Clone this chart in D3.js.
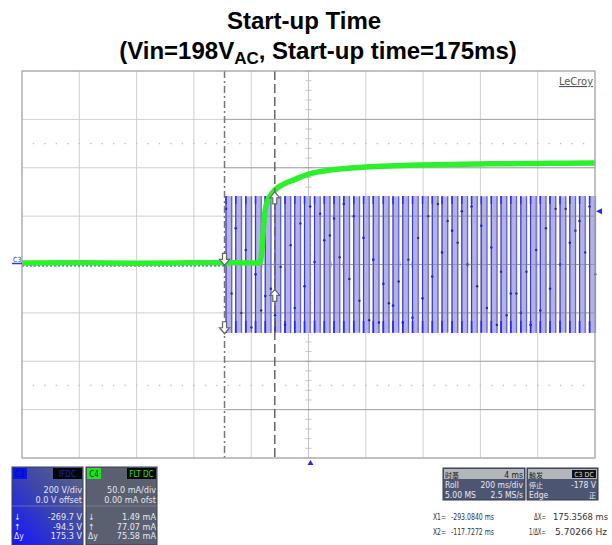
<!DOCTYPE html>
<html><head><meta charset="utf-8">
<script src="https://cdn.jsdelivr.net/npm/d3@7"></script>
<style>
html,body{margin:0;padding:0;background:#fff;}
svg{display:block;}
.nar{font-family:"Liberation Sans Narrow","DejaVu Sans Condensed","Liberation Sans",Arial,sans-serif;}
</style></head>
<body>
<script>
// ---------- data ----------
const titleLine1 = "Start-up Time";
const timeDomain = [-1000, 1000];      // ms, 200 ms/div, 10 div
const voltDomain = [-800, 800];        // V, 200 V/div, 8 div
const currDomain = [-200, 200];        // mA, 50 mA/div, 8 div
const xDivs = 10, yDivs = 8;

// green trace: input current C4 (ms, mA)
const greenT = [-1000, -800, -600, -400, -300, -200, -169, -163, -158, -153, -148, -141, -131, -117, -100, -80, -64, -30, -9, 30, 70, 110, 160, 201, 300, 389, 500, 599, 700, 800, 900, 1000];
const greenI = [1.5, 1.8, 1.3, 1.7, 1.9, 1.5, 1.6, 14, 34, 52, 61, 67, 72, 77, 81, 84, 86, 90, 92.5, 95.5, 97.5, 98.7, 100, 100.8, 102, 102.8, 103.4, 103.9, 104.2, 104.4, 104.7, 104.9];

// blue trace: AC input voltage C3, baseline before switch-on (ms, V)
const blueBaseT = [-1000, -293];
const blueBaseV = [-6, -6];
// blue trace after switch-on: displayed (roll-mode) columns: time (ms), crest (V), trough (V), sampled dots (V)
const acT = [-290, -256, -221, -187, -153, -119, -84, -50, -16, 19, 53, 87, 121, 156, 190, 224, 259, 293, 327, 361, 396, 430, 464, 499, 533, 567, 601, 636, 670, 704, 739, 773, 807, 841, 876, 910, 944, 979];
const acPeak = [283, 283, 282, 283, 283, 282, 283, 283, 283, 282, 283, 283, 283, 282, 283, 283, 283, 282, 283, 283, 283, 283, 282, 283, 283, 283, 282, 283, 283, 283, 282, 283, 283, 283, 282, 283, 283, 283];
const acTrough = [-283, -283, -282, -283, -283, -282, -283, -283, -283, -282, -283, -283, -283, -282, -283, -283, -283, -282, -283, -283, -283, -283, -282, -283, -283, -283, -282, -283, -283, -283, -282, -283, -283, -283, -282, -283, -283, -283];
const acDotA = [230, 150, 60, -40, -130, -210, -250, -180, -90, 10, 100, 190, 250, 200, 110, 20, -80, -170, -240, -220, -140, -50, 50, 140, 220, 240, 160, 70, -30, -120, -200, -250, -190, -100, 0, 90, 180, 240];
const acDotB = [-120, -200, -260, -190, -100, -10, 80, 170, 240, 210, 120, 30, -60, -150, -230, -240, -160, -70, 20, 110, 200, 250, 180, 90, 0, -90, -180, -250, -210, -120, -30, 60, 150, 230, 230, 140, 50, -40];

// cursors
const cursorX1 = -293.084, cursorX2 = -117.7272;
const dottedLevels = [500, -500]; // V levels of dotted horizontal lines
const triggerLevel = 220; // V, marker on right edge

// readout panels
const c3Rows = ["200 V/div", "0.0 V offset"];
const c3Cursor = [["↓", "-269.7 V"], ["↑", "-94.5 V"], ["Δy", "175.3 V"]];
const c4Rows = ["50.0 mA/div", "0.00 mA ofst"];
const c4Cursor = [["↓", "1.49 mA"], ["↑", "77.07 mA"], ["Δy", "75.58 mA"]];
const tbRows = [["时基", "4 ms"], ["Roll", "200 ms/div"], ["5.00 MS", "2.5 MS/s"]];
const trRows = [["触发", "C3 DC"], ["停止", "-178 V"], ["Edge", "正"]];
const readout = [["X1=", "-293.0840 ms", "ΔX=", "175.3568 ms"], ["X2=", "-117.7272 ms", "1/ΔX=", "5.70266 Hz"]];

// ---------- drawing ----------
const W = 612, H = 545;
const L = 22, R = 595, T = 71, B = 458;
const svg = d3.select("body").append("svg").attr("width", W).attr("height", H);

const x = d3.scaleLinear().domain(timeDomain).range([L, R]);
const yV = d3.scaleLinear().domain(voltDomain).range([B, T]);
const yI = d3.scaleLinear().domain(currDomain).range([B, T]);
const xGrid = d3.range(xDivs + 1).map(i => timeDomain[0] + i * (timeDomain[1] - timeDomain[0]) / xDivs);
const yGrid = d3.range(yDivs + 1).map(i => voltDomain[0] + i * (voltDomain[1] - voltDomain[0]) / yDivs);

// Title
svg.append("text").attr("x", 304).attr("y", 29).attr("text-anchor", "middle")
  .style("font-family", "Liberation Sans, Arial, sans-serif").style("font-weight", "bold").style("font-size", "24px")
  .text(titleLine1);
const t2 = svg.append("text").attr("x", 318).attr("y", 59).attr("text-anchor", "middle")
  .style("font-family", "Liberation Sans, Arial, sans-serif").style("font-weight", "bold").style("font-size", "24px");
t2.append("tspan").text("(Vin=198V");
t2.append("tspan").attr("dy", 5).style("font-size", "17px").text("AC");
t2.append("tspan").attr("dy", -5).text(", Start-up time=175ms)");

// Plot background
svg.append("rect").attr("x", L).attr("y", T).attr("width", R - L).attr("height", B - T).attr("fill", "#fff");

const gridG = svg.append("g");
gridG.selectAll("line.v").data(xGrid).join("line")
  .attr("x1", d => x(d)).attr("x2", d => x(d)).attr("y1", T).attr("y2", B)
  .attr("stroke", "#d0d0d0").attr("stroke-width", 1);
gridG.selectAll("line.h").data(yGrid).join("line")
  .attr("y1", d => yV(d)).attr("y2", d => yV(d)).attr("x1", L).attr("x2", R)
  .attr("stroke", "#d0d0d0").attr("stroke-width", 1);

// dotted lines
const minorX = d3.range(xDivs * 5 + 1).map(i => timeDomain[0] + i * (timeDomain[1] - timeDomain[0]) / (xDivs * 5));
const minorY = d3.range(yDivs * 5 + 1).map(i => voltDomain[0] + i * (voltDomain[1] - voltDomain[0]) / (yDivs * 5));
dottedLevels.forEach(lv => {
  gridG.selectAll(null).data(minorX.slice(1, -1)).join("rect")
    .attr("x", d => x(d) - 0.7).attr("y", yV(lv) - 0.7).attr("width", 1.4).attr("height", 1.4).attr("fill", "#c0c0c0");
});

// center axes with minor ticks
const cx = x(0), cy = yV(0);
gridG.append("line").attr("x1", cx).attr("x2", cx).attr("y1", T).attr("y2", B).attr("stroke", "#c4c4c4");
gridG.append("line").attr("x1", L).attr("x2", R).attr("y1", cy).attr("y2", cy).attr("stroke", "#c4c4c4");
gridG.selectAll(null).data(minorY).join("line")
  .attr("x1", cx - 3).attr("x2", cx + 3).attr("y1", d => yV(d)).attr("y2", d => yV(d)).attr("stroke", "#c4c4c4");
gridG.selectAll(null).data(minorX).join("line")
  .attr("y1", cy - 3).attr("y2", cy + 3).attr("x1", d => x(d)).attr("x2", d => x(d)).attr("stroke", "#c4c4c4");

// Blue trace
const blueG = svg.append("g");
const colW = 7.2;
const cols = acT.map((t, i) => ({ t, p: acPeak[i], q: acTrough[i], a: acDotA[i], b: acDotB[i] }));
blueG.selectAll("rect.col").data(cols).join("rect")
  .attr("x", d => x(d.t)).attr("y", d => yV(d.p)).attr("width", colW).attr("height", d => yV(d.q) - yV(d.p))
  .attr("fill", "#b2b2e6");
blueG.selectAll("line.up").data(cols).join("line")
  .attr("x1", d => x(d.t) + 0.6).attr("x2", d => x(d.t) + 0.6).attr("y1", d => yV(d.p)).attr("y2", d => yV(d.q))
  .attr("stroke", "#3a3ac4").attr("stroke-width", 1.2);
blueG.selectAll("line.dn").data(cols).join("line")
  .attr("x1", d => x(d.t) + colW - 1).attr("x2", d => x(d.t) + colW - 1).attr("y1", d => yV(d.p)).attr("y2", d => yV(d.q))
  .attr("stroke", "#5a5ad0").attr("stroke-width", 1.0);
blueG.selectAll("line.bt").data(cols).join("line")
  .attr("x1", d => x(d.t) + 0.6).attr("x2", d => x(d.t) + 0.6).attr("y1", d => yV(d.q) - 12).attr("y2", d => yV(d.q))
  .attr("stroke", "#2a2aff").attr("stroke-width", 1.7);
blueG.selectAll("line.tp").data(cols).join("line")
  .attr("x1", d => x(d.t) + 0.6).attr("x2", d => x(d.t) + 0.6).attr("y1", d => yV(d.p)).attr("y2", d => yV(d.p) + 8)
  .attr("stroke", "#3030e8").attr("stroke-width", 1.5);
blueG.selectAll("circle.a").data(cols).join("circle")
  .attr("cx", d => x(d.t) + 0.6).attr("cy", d => yV(d.a)).attr("r", 1.3).attr("fill", "#2020e0");
blueG.selectAll("circle.b").data(cols).join("circle")
  .attr("cx", d => x(d.t) + colW - 1).attr("cy", d => yV(d.b)).attr("r", 1.2).attr("fill", "#2a2a90");
blueG.append("path").datum(blueBaseT.map((t, i) => [t, blueBaseV[i]]))
  .attr("d", d3.line().x(d => x(d[0])).y(d => yV(d[1])))
  .attr("stroke", "#3a3ad8").attr("stroke-width", 1.2).attr("stroke-dasharray", "2,2").attr("fill", "none");

// grid on top over the signal (faint)
svg.append("g").selectAll("line").data(yGrid.slice(1, -1)).join("line")
  .attr("y1", d => yV(d)).attr("y2", d => yV(d)).attr("x1", x(cursorX1)).attr("x2", R)
  .attr("stroke", "#707090").attr("stroke-opacity", 0.5).attr("stroke-width", 1);

// Green trace
svg.append("path").datum(greenT.map((t, i) => [t, greenI[i]]))
  .attr("d", d3.line().x(d => x(d[0])).y(d => yI(d[1])).curve(d3.curveMonotoneX))
  .attr("stroke", "#2cf02c").attr("stroke-width", 5.5).attr("fill", "none").attr("stroke-linejoin", "round");

// Cursors
svg.append("line").attr("x1", x(cursorX1)).attr("x2", x(cursorX1)).attr("y1", T).attr("y2", B)
  .attr("stroke", "#777").attr("stroke-width", 1.5).attr("stroke-dasharray", "7,3,2,3");
svg.append("line").attr("x1", x(cursorX2)).attr("x2", x(cursorX2)).attr("y1", T).attr("y2", B)
  .attr("stroke", "#666").attr("stroke-width", 1.5).attr("stroke-dasharray", "9,4");

function arrow(px, py, down) {
  const s = down ? 1 : -1;
  const p = [[-2, -6 * s], [2, -6 * s], [2, 0], [5, 0], [0, 6 * s], [-5, 0], [-2, 0]];
  svg.append("path").attr("d", "M" + p.map(q => [px + q[0], py + q[1]].join(",")).join("L") + "Z")
    .attr("fill", "#fff").attr("stroke", "#666").attr("stroke-width", 1.2);
}
arrow(x(cursorX1), yV(-4) - 6, true);
arrow(x(cursorX1), yV(-269.7) - 2, true);
arrow(x(cursorX2), yI(77.07) + 8, false);
arrow(x(cursorX2), yV(-94.5) + 8, false);

// Plot border
svg.append("rect").attr("x", L).attr("y", T).attr("width", R - L).attr("height", B - T)
  .attr("fill", "none").attr("stroke", "#a8a8a8").attr("stroke-width", 1.2);

// LeCroy logo
svg.append("text").attr("x", 593).attr("y", 85).attr("text-anchor", "end").attr("class", "nar")
  .style("font-size", "11px").attr("fill", "#555").attr("text-decoration", "underline").text("LeCroy");

// C3 marker at left
svg.append("text").attr("x", 13).attr("y", cy - 3).attr("class", "nar").style("font-size", "7px").attr("fill", "#3040c0").text("C3");
svg.append("line").attr("x1", 12).attr("x2", L).attr("y1", cy - 1).attr("y2", cy - 1).attr("stroke", "#3040c0").attr("stroke-width", 1.5);
svg.append("path").attr("d", `M${x(0) + 2},${B + 2}l-3,5h6z`).attr("fill", "#2a2aee");
svg.append("path").attr("d", `M${R + 1},${yV(triggerLevel)}l6,-3v6z`).attr("fill", "#2a2aee");

// ---- readout panels ----
const defs = svg.append("defs");
const g1 = defs.append("linearGradient").attr("id", "c3g").attr("x1", "1").attr("y1", "0").attr("x2", "0").attr("y2", "1");
g1.append("stop").attr("offset", "0").attr("stop-color", "#5c6680");
g1.append("stop").attr("offset", "0.45").attr("stop-color", "#3e48a8");
g1.append("stop").attr("offset", "1").attr("stop-color", "#1515ff");

function fitText(g, tx, ty, str, len, size, fill, anchor) {
  return g.append("text").attr("x", tx).attr("y", ty).attr("text-anchor", anchor || "start")
    .attr("textLength", len).attr("lengthAdjust", "spacingAndGlyphs")
    .style("font-size", size + "px").attr("fill", fill).text(str);
}

function chPanel(px, w, label, boxColor, labelColor, coupling, couplingColor, fill, rows, curs) {
  const g = svg.append("g").attr("class", "nar");
  g.append("rect").attr("x", px).attr("y", 467).attr("width", w).attr("height", 78).attr("fill", fill).attr("stroke", "#3a3f55");
  g.append("rect").attr("x", px + 1).attr("y", 468).attr("width", 14).attr("height", 11).attr("fill", boxColor);
  g.append("text").attr("x", px + 8).attr("y", 476.5).attr("text-anchor", "middle").style("font-size", "8px").attr("fill", labelColor).text(label);
  g.append("rect").attr("x", px + w - 30).attr("y", 468).attr("width", 29).attr("height", 11).attr("fill", "#050505");
  g.append("text").attr("x", px + w - 15.5).attr("y", 476.5).attr("text-anchor", "middle").style("font-size", "8px").attr("fill", couplingColor).text(coupling);
  rows.forEach((r, i) => g.append("text").attr("x", px + w - 1).attr("y", 493 + i * 9.5).attr("text-anchor", "end")
    .style("font-size", "9px").attr("fill", "#e4e4ec").text(r));
  g.append("line").attr("x1", px).attr("x2", px + w).attr("y1", 506).attr("y2", 506).attr("stroke", "#8890a8").attr("stroke-width", 0.6);
  curs.forEach((r, i) => {
    g.append("text").attr("x", px + 2).attr("y", 520 + i * 9.5).style("font-size", "8.5px").attr("fill", "#e4e4ec").text(r[0]);
    g.append("text").attr("x", px + w - 1).attr("y", 520 + i * 9.5).attr("text-anchor", "end").style("font-size", "9px").attr("fill", "#e8e8f0").text(r[1]);
  });
}
chPanel(12, 71, "C3", "#0a14ee", "#091070", "IFDC", "#2020c0", "url(#c3g)", c3Rows, c3Cursor);
chPanel(86, 71, "C4", "#22e022", "#064006", "FLT DC", "#30e030", "#5a6070", c4Rows, c4Cursor);

function tPanel(px, w, rows, boxed) {
  const g = svg.append("g").attr("class", "nar");
  g.append("rect").attr("x", px).attr("y", 468).attr("width", w).attr("height", 32).attr("fill", "#4c5672").attr("stroke", "#333a50");
  g.append("rect").attr("x", px + 1).attr("y", 469).attr("width", w - 2).attr("height", 10).attr("fill", "#b4b6bc");
  rows.forEach((r, i) => {
    const yy = 477.5 + i * 10;
    const col = i === 0 ? "#222" : "#e6e8f0";
    const cjk0 = /[\u4e00-\u9fff]/.test(r[0]), cjk1 = /[\u4e00-\u9fff]/.test(r[1]);
    g.append("text").attr("x", px + 2).attr("y", yy).style("font-size", cjk0 ? "7px" : "8.5px").attr("fill", col)
      .style("font-family", cjk0 ? "Noto Sans CJK SC" : null).text(r[0]);
    if (i === 0 && boxed) {
      g.append("rect").attr("x", px + w - 26).attr("y", 470).attr("width", 24).attr("height", 8).attr("fill", "#111");
      g.append("text").attr("x", px + w - 14).attr("y", yy - 0.5).attr("text-anchor", "middle").style("font-size", "7px").attr("fill", "#ddd").text(r[1]);
    } else {
      g.append("text").attr("x", px + w - 2).attr("y", yy).attr("text-anchor", "end").style("font-size", cjk1 ? "7px" : "8.5px").attr("fill", col)
        .style("font-family", cjk1 ? "Noto Sans CJK SC" : null).text(r[1]);
    }
  });
}
tPanel(443, 82, tbRows, false);
tPanel(527, 71, trRows, true);

const ro = svg.append("g").attr("class", "nar");
readout.forEach((r, i) => {
  const yy = 520 + i * 15;
  fitText(ro, 433, yy, r[0], 13, 9, "#333");
  fitText(ro, 451, yy, r[1], 43, 9, "#333");
  if (i === 0) {
    fitText(ro, 534, yy, r[2], 12, 8.5, "#333");
    fitText(ro, 553, yy, r[3], 55, 9, "#333");
  } else {
    fitText(ro, 529, yy, r[2], 17, 8.5, "#333");
    fitText(ro, 555, yy, r[3], 52, 9, "#333");
  }
});
</script>
</body></html>
